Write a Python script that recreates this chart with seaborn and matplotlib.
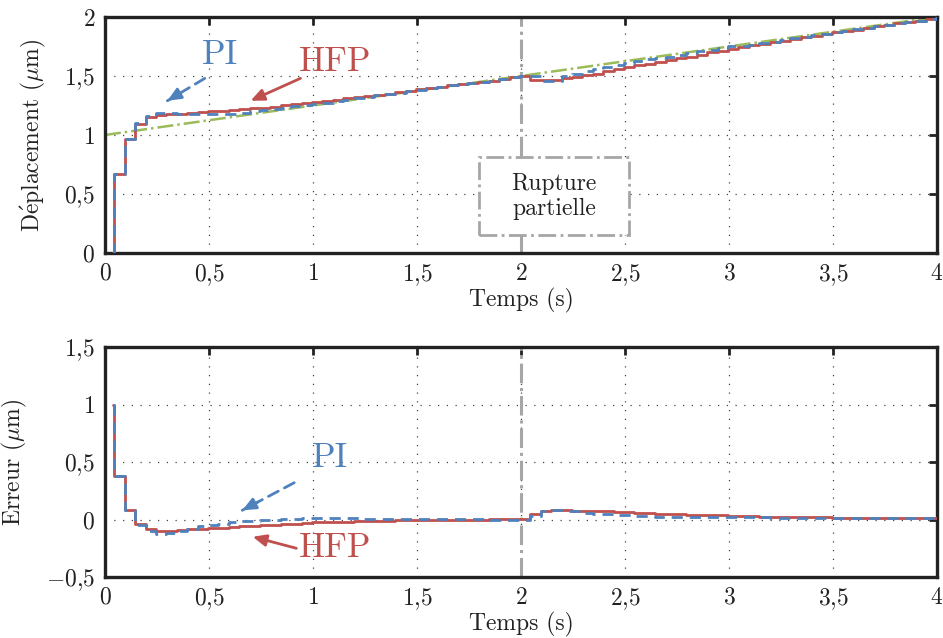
import numpy as np
import matplotlib
matplotlib.use('Agg')
import matplotlib.pyplot as plt
from matplotlib.patches import Rectangle
from matplotlib.ticker import FuncFormatter, MultipleLocator
import seaborn as sns

# échantillonnage (période 0,05 s), premier point à t = 0,04 s
t_samples = np.concatenate([[0.04], 0.045 + 0.05 * np.arange(80), [4.0]])

# consigne (rampe)
ref_t = [0.0, 4.0]
ref_y = [1.0, 2.0]

# sortie HFP (µm)
y_hfp = [0.67, 0.97, 1.09, 1.15, 1.17, 1.175, 1.18, 1.19, 1.195, 1.20,
         1.205, 1.21, 1.22, 1.225, 1.23, 1.24, 1.25, 1.26, 1.27, 1.28,
         1.29, 1.30, 1.31, 1.32, 1.33, 1.34, 1.35, 1.365, 1.375, 1.39,
         1.40, 1.41, 1.42, 1.43, 1.44, 1.45, 1.46, 1.475, 1.49, 1.50,
         1.47, 1.465, 1.47, 1.48, 1.495, 1.51, 1.52, 1.54, 1.56, 1.58,
         1.59, 1.605, 1.62, 1.635, 1.65, 1.665, 1.68, 1.70, 1.715, 1.73,
         1.745, 1.76, 1.775, 1.79, 1.80, 1.815, 1.83, 1.84, 1.855, 1.87,
         1.88, 1.89, 1.905, 1.92, 1.93, 1.945, 1.955, 1.97, 1.98, 1.995]

# sortie PI (µm)
y_pi = [0.67, 0.97, 1.10, 1.16, 1.19, 1.185, 1.18, 1.175, 1.175, 1.175,
        1.175, 1.18, 1.19, 1.20, 1.21, 1.22, 1.23, 1.245, 1.255, 1.265,
        1.275, 1.29, 1.30, 1.31, 1.32, 1.335, 1.345, 1.36, 1.37, 1.385,
        1.40, 1.41, 1.42, 1.43, 1.44, 1.45, 1.46, 1.475, 1.49, 1.50,
        1.50, 1.46, 1.46, 1.50, 1.52, 1.54, 1.56, 1.58, 1.595, 1.61,
        1.625, 1.64, 1.65, 1.665, 1.68, 1.695, 1.71, 1.72, 1.735, 1.75,
        1.755, 1.765, 1.78, 1.79, 1.805, 1.82, 1.83, 1.845, 1.855, 1.87,
        1.88, 1.895, 1.905, 1.92, 1.93, 1.945, 1.955, 1.97, 1.98, 1.995]

# erreurs (µm)
e_hfp = [0.38, 0.08, -0.04, -0.08, -0.10, -0.10, -0.09, -0.085, -0.08, -0.075,
         -0.07, -0.065, -0.06, -0.055, -0.05, -0.045, -0.04, -0.035, -0.03, -0.025,
         -0.022, -0.02, -0.018, -0.016, -0.014, -0.012, -0.01, -0.008, -0.006, -0.005,
         -0.004, -0.003, -0.002, -0.001, 0.0, 0.0, 0.002, 0.002, 0.003, 0.004,
         0.05, 0.07, 0.08, 0.08, 0.078, 0.075, 0.072, 0.07, 0.066, 0.062,
         0.058, 0.055, 0.052, 0.048, 0.045, 0.042, 0.04, 0.037, 0.035, 0.032,
         0.03, 0.028, 0.026, 0.025, 0.023, 0.022, 0.02, 0.019, 0.018, 0.017,
         0.016, 0.015, 0.014, 0.013, 0.012, 0.012, 0.011, 0.011, 0.01, 0.01]

e_pi = [0.38, 0.08, -0.05, -0.10, -0.125, -0.12, -0.10, -0.08, -0.06, -0.045,
        -0.035, -0.025, -0.015, -0.01, -0.005, 0.0, 0.005, 0.008, 0.01, 0.012,
        0.012, 0.012, 0.01, 0.01, 0.008, 0.008, 0.006, 0.005, 0.005, 0.004,
        0.003, 0.002, 0.002, 0.002, 0.001, 0.001, 0.0, 0.0, 0.0, 0.0,
        0.03, 0.07, 0.08, 0.075, 0.07, 0.06, 0.05, 0.045, 0.04, 0.035,
        0.03, 0.028, 0.026, 0.025, 0.024, 0.023, 0.022, 0.021, 0.02, 0.02,
        0.019, 0.018, 0.018, 0.017, 0.016, 0.016, 0.015, 0.015, 0.014, 0.014,
        0.013, 0.013, 0.012, 0.012, 0.011, 0.011, 0.011, 0.01, 0.01, 0.01]

t_rupture = 2.0

RED = '#c0504d'
BLUE = '#4f81bd'
GREEN = '#9bbb59'
GRAY = '#a6a6a6'
INK = '#222222'

sns.set_style('white')
plt.rcParams['font.family'] = ['cmr10', 'DejaVu Serif']
plt.rcParams['mathtext.fontset'] = 'cm'
plt.rcParams['axes.unicode_minus'] = False


def fr_fmt(v, _):
    s = f'{v:g}'.replace('.', '{,}')
    return f'${s}$'


def full(vals, first):
    return [first] + list(vals) + [vals[-1]]


fig = plt.figure(figsize=(9.43, 6.38), dpi=100)
ax1 = fig.add_axes([0.1113, 0.6034, 0.8823, 0.370])
ax2 = fig.add_axes([0.1113, 0.0956, 0.8823, 0.3605])

for ax in (ax1, ax2):
    ax.axvline(t_rupture, color=GRAY, lw=2.2, ls='-.', zorder=1)

# --- déplacement
sns.lineplot(x=ref_t, y=ref_y, ax=ax1, color=GREEN, lw=1.8, ls='-.', zorder=2)
sns.lineplot(x=t_samples, y=full(y_hfp, 0.0), ax=ax1, color=RED, lw=2.0,
             drawstyle='steps-post', zorder=3)
sns.lineplot(x=t_samples, y=full(y_pi, 0.0), ax=ax1, color=BLUE, lw=2.0,
             ls=(0, (4, 2.5)), drawstyle='steps-post', zorder=4)

# --- erreur
sns.lineplot(x=t_samples, y=full(e_hfp, 1.0), ax=ax2, color=RED, lw=2.0,
             drawstyle='steps-post', zorder=3)
sns.lineplot(x=t_samples, y=full(e_pi, 1.0), ax=ax2, color=BLUE, lw=2.0,
             ls=(0, (4, 2.5)), drawstyle='steps-post', zorder=4)

ax1.set_ylim(0, 2)
ax2.set_ylim(-0.5, 1.5)
for ax in (ax1, ax2):
    ax.set_xlim(0, 4)
    ax.xaxis.set_major_locator(MultipleLocator(0.5))
    ax.yaxis.set_major_locator(MultipleLocator(0.5))
    ax.xaxis.set_major_formatter(FuncFormatter(fr_fmt))
    ax.yaxis.set_major_formatter(FuncFormatter(fr_fmt))
    ax.tick_params(direction='in', length=6, width=2, labelsize=17, pad=7,
                   top=True, right=True, colors=INK, labelcolor=INK)
    ax.grid(True, color='#444444', ls=(0, (1, 6)), lw=0.9)
    for sp in ax.spines.values():
        sp.set_linewidth(2.4)
        sp.set_color(INK)
    ax.set_xlabel('Temps (s)', fontsize=17, labelpad=0, color=INK)

ax1.set_ylabel(r'D$\acute{\mathrm{e}}$placement ($\mu$m)', fontsize=17, labelpad=12,
               color=INK)
ax2.set_ylabel(r'Erreur ($\mu$m)', fontsize=17, labelpad=12, color=INK)

# encadré "Rupture partielle"
ax1.add_patch(Rectangle((1.80, 0.15), 0.72, 0.66, fc='white', ec=GRAY, lw=2,
                        ls='-.', zorder=5))
ax1.text(2.16, 0.48, 'Rupture\npartielle', ha='center', va='center', fontsize=17,
         color=INK, linespacing=1.2, zorder=6)


def label_arrow(ax, text, xy_text, xy_from, xy_tip, color, dashed):
    ax.text(*xy_text, text, color=color, fontsize=25, ha='center', va='center', zorder=6)
    head = dict(arrowstyle='-|>,head_length=0.8,head_width=0.35',
                color=color, lw=2, shrinkA=0, shrinkB=0)
    if dashed:
        ax.annotate('', xy=xy_tip, xytext=xy_from,
                    arrowprops=dict(arrowstyle='-', color=color, lw=2, ls=(0, (4, 2.5)),
                                    shrinkA=0, shrinkB=0), zorder=6)
        ax.annotate('', xy=xy_tip, xytext=(xy_tip[0] + (xy_from[0] - xy_tip[0]) * 0.3,
                                           xy_tip[1] + (xy_from[1] - xy_tip[1]) * 0.3),
                    arrowprops=head, zorder=6)
    else:
        ax.annotate('', xy=xy_tip, xytext=xy_from, arrowprops=head, zorder=6)


label_arrow(ax1, 'PI', (0.553, 1.68), (0.48, 1.48), (0.30, 1.29), BLUE, True)
label_arrow(ax1, 'HFP', (1.106, 1.62), (0.94, 1.48), (0.70, 1.29), RED, False)
label_arrow(ax2, 'PI', (1.08, 0.53), (0.91, 0.32), (0.66, 0.08), BLUE, True)
label_arrow(ax2, 'HFP', (1.106, -0.25), (0.92, -0.25), (0.71, -0.15), RED, False)

fig.savefig('out.png', dpi=100)
